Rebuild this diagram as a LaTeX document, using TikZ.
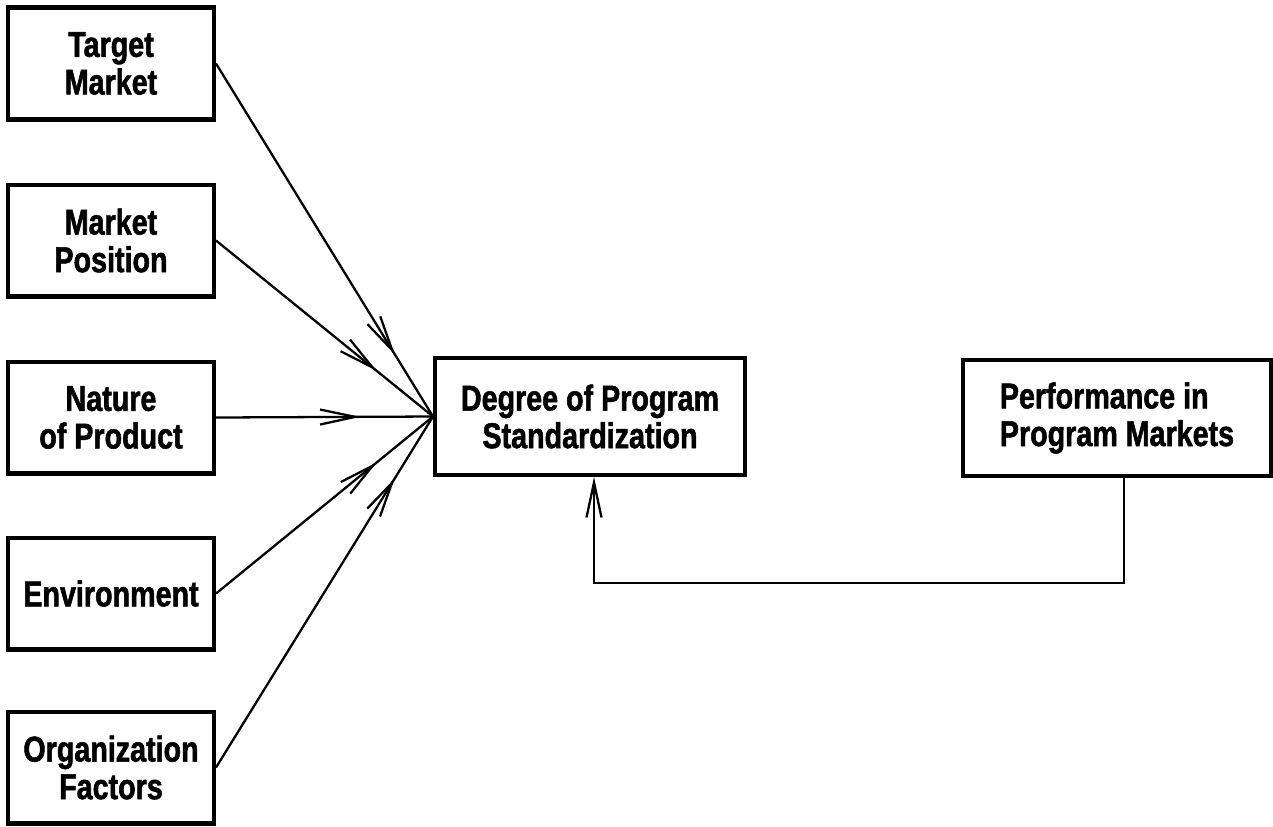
\documentclass[tikz,border=0pt]{standalone}
\usepackage{fontspec}
\setmainfont{Liberation Sans}[FakeStretch=0.8,BoldFeatures={FakeBold=1.5}]
\usetikzlibrary{arrows.meta,decorations.markings}

\begin{document}
\begin{tikzpicture}[x=0.02cm,y=-0.02cm,
    box/.style={draw,line width=2.3pt,inner sep=0pt,font=\bfseries\fontsize{20.4}{21.4}\selectfont},
    factor/.style={box,minimum width=4.12cm,minimum height=2.24cm,align=center},
    barb/.style={line width=1.3pt},
    midarrow/.style={barb,postaction={decorate},decoration={markings,
      mark=at position -1.45cm with {\arrow{Straight Barb[length=0.7cm,width=0.3cm]}}}}]
  \useasboundingbox (0,0) rectangle (1273,826);
  \node[factor] (target) at (111,63.5) {Target\\Market};
  \node[factor] (position) at (111,240.5) {Market\\Position};
  \node[factor] (nature) at (111,417.5) {Nature\\of Product};
  \node[factor] (environ) at (111,593.5) {Environment};
  \node[factor] (organiz) at (111,767.5) {Organization\\Factors};
  \node[box,minimum width=6.2cm,minimum height=2.34cm,align=center] (degree) at (590,416.5) {Degree of Program\\Standardization};
  \node[box,minimum width=6.16cm,minimum height=2.32cm,align=left] (perf) at (1117,418) {Performance in\\Program Markets};
  \foreach \f in {target,position,nature,environ,organiz}
    \draw[midarrow] (\f.east) -- (degree.west);
  % feedback loop
  \coordinate (turn) at (1124,583);
  \draw[barb,-{Straight Barb[length=0.7cm,width=0.3cm]}] (perf.south -| turn) -- (turn) -| ([xshift=0.08cm]degree.south);
\end{tikzpicture}
\end{document}
